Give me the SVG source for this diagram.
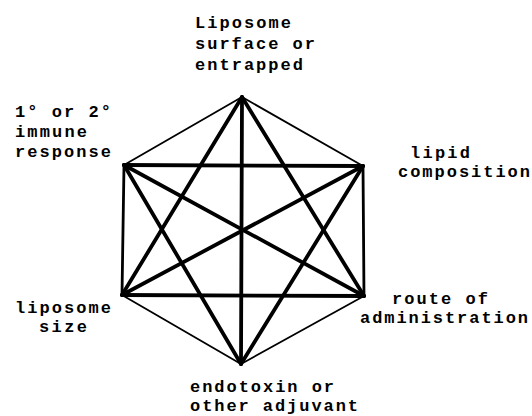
<svg xmlns="http://www.w3.org/2000/svg" width="532" height="416" viewBox="0 0 532 416">
<style>
text{font-family:"Liberation Mono","Courier New",Courier,"Nimbus Mono PS","DejaVu Sans Mono","Noto Sans Mono",monospace;font-weight:bold;font-size:17px;fill:#000}
.thin{stroke:#000;stroke-width:1.8;stroke-linecap:round;fill:none}
.mid{stroke:#000;stroke-width:2.8;stroke-linecap:round;fill:none}
.thick{stroke:#000;stroke-width:3.8;stroke-linecap:round;fill:none}
</style>
<rect width="532" height="416" fill="#fff"/>
<g id="connectors">
<line class="thin" x1="242" y1="97" x2="124" y2="165"/>
<line class="thin" x1="242" y1="97" x2="363" y2="166"/>
<line class="thin" x1="122" y1="295" x2="241" y2="364"/>
<line class="thin" x1="364" y1="296" x2="241" y2="364"/>
<line class="mid" x1="124" y1="165" x2="122" y2="295"/>
<line class="mid" x1="363" y1="166" x2="364" y2="296"/>
<line class="thick" x1="124" y1="165" x2="363" y2="166"/>
<line class="thick" x1="122" y1="295" x2="364" y2="296"/>
<line class="thick" x1="242" y1="97" x2="122" y2="295"/>
<line class="thick" x1="242" y1="97" x2="364" y2="296"/>
<line class="thick" x1="241" y1="364" x2="124" y2="165"/>
<line class="thick" x1="241" y1="364" x2="363" y2="166"/>
<line class="thick" x1="124" y1="165" x2="364" y2="296"/>
<line class="thick" x1="363" y1="166" x2="122" y2="295"/>
<line class="thick" x1="242" y1="97" x2="241" y2="364"/>
</g>
<g id="node-surface">
<text x="195" y="28" textLength="96" lengthAdjust="spacing">Liposome</text>
<text x="195" y="49" textLength="120" lengthAdjust="spacing">surface or</text>
<text x="195" y="70" textLength="108" lengthAdjust="spacing">entrapped</text>
</g>
<g id="node-immune">
<text x="15" y="117" textLength="96" lengthAdjust="spacing">1° or 2°</text>
<text x="15" y="137" textLength="72" lengthAdjust="spacing">immune</text>
<text x="15" y="157" textLength="96" lengthAdjust="spacing">response</text>
</g>
<g id="node-lipid">
<text x="410" y="158" textLength="60" lengthAdjust="spacing">lipid</text>
<text x="398" y="177" textLength="132" lengthAdjust="spacing">composition</text>
</g>
<g id="node-size">
<text x="15" y="313" textLength="96" lengthAdjust="spacing">liposome</text>
<text x="39" y="332" textLength="48" lengthAdjust="spacing">size</text>
</g>
<g id="node-route">
<text x="392" y="304" textLength="96" lengthAdjust="spacing">route of</text>
<text x="360" y="323" textLength="168" lengthAdjust="spacing">administration</text>
</g>
<g id="node-adjuvant">
<text x="190" y="392" textLength="144" lengthAdjust="spacing">endotoxin or</text>
<text x="190" y="411" textLength="168" lengthAdjust="spacing">other adjuvant</text>
</g>
</svg>
